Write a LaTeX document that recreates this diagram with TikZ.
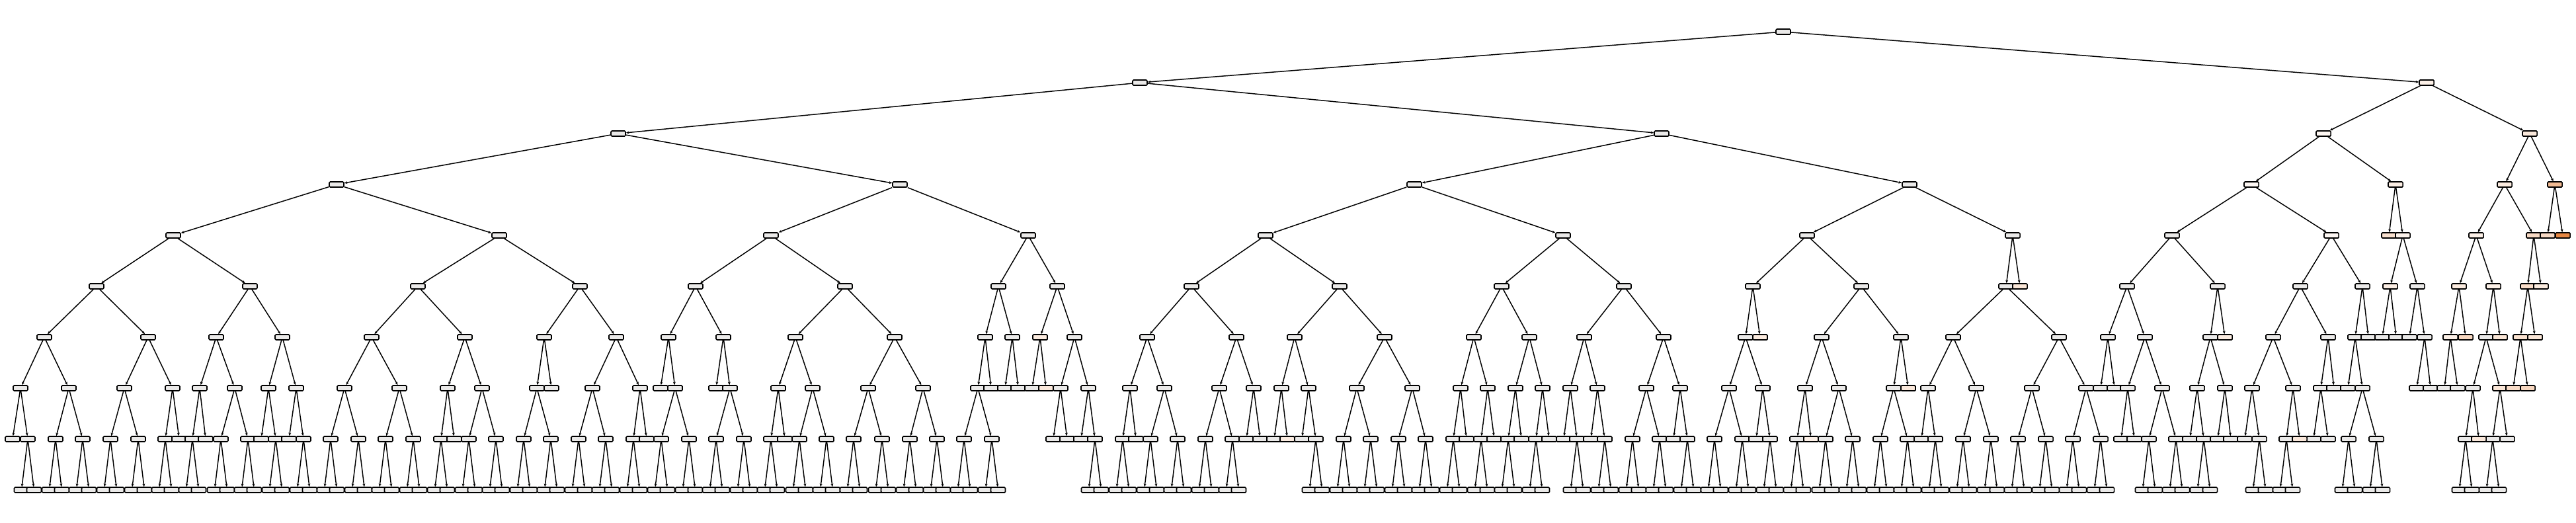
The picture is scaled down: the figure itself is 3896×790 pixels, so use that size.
\documentclass[tikz,border=0pt]{standalone}
\usepackage{tikz}
\usetikzlibrary{arrows.meta}
\definecolor{classzero}{HTML}{E58139}
\colorlet{boxfill}{classzero!8!black!9!white}
\tikzset{
  nodebox/.style={draw, line width=0.45pt, rounded corners=0.4pt, fill=boxfill,
    minimum width=0.22cm, minimum height=0.08cm, inner sep=0pt},
  branch/.style={line width=0.42pt, -{Stealth[length=1.3pt, width=1.1pt]}}
}
\begin{document}
\begin{tikzpicture}[x=0.01cm, y=0.01cm]
\useasboundingbox (0,0) rectangle (3896,-790);
\node[nodebox] (n0x2697) at (2697,-48) {};
\foreach \x in {1724,3670} {\node[nodebox] (n1x\x) at (\x,-125) {}; \draw[branch] (n0x2697) -- (n1x\x);}
\foreach \x/\p in {935/1724, 2513/1724, 3514/3670, 3826/3670}
  {\node[nodebox] (n2x\x) at (\x,-202) {}; \draw[branch] (n1x\p) -- (n2x\x);}
\foreach \x/\p in {509/935, 1361/935, 2139/2513, 2888/2513, 3405/3514, 3623/3514, 3788/3826, 3864/3826}
  {\node[nodebox] (n3x\x) at (\x,-279) {}; \draw[branch] (n2x\p) -- (n3x\x);}
\foreach \x/\p in {262/509, 755/509, 1166/1361, 1555/1361, 1914/2139, 2364/2139, 2733/2888, 3044/2888,
    3285/3405, 3526/3405, 3613/3623, 3634/3623, 3745/3788, 3832/3788, 3853/3864, 3876/3864}
  {\node[nodebox] (n4x\x) at (\x,-356) {}; \draw[branch] (n3x\p) -- (n4x\x);}
\foreach \x/\p in {146/262, 378/262, 632/755, 877/755, 1052/1166, 1278/1166, 1510/1555, 1599/1555,
    1802/1914, 2026/1914, 2271/2364, 2456/2364, 2651/2733, 2815/2733, 3034/3044, 3055/3044,
    3217/3285, 3354/3285, 3479/3526, 3573/3526, 3615/3634, 3656/3634, 3719/3745, 3771/3745,
    3823/3832, 3843/3832}
  {\node[nodebox] (n5x\x) at (\x,-433) {}; \draw[branch] (n4x\p) -- (n5x\x);}
\foreach \x/\p in {67/146, 224/146, 327/378, 427/378, 562/632, 703/632, 823/877, 932/877,
    1011/1052, 1094/1052, 1203/1278, 1353/1278, 1490/1510, 1531/1510, 1573/1599, 1625/1599,
    1735/1802, 1870/1802, 1958/2026, 2094/2026, 2229/2271, 2313/2271, 2396/2456, 2516/2456,
    2640/2651, 2662/2651, 2755/2815, 2875/2815, 2954/3034, 3114/3034, 3188/3217, 3244/3217,
    3343/3354, 3365/3354, 3438/3479, 3521/3479, 3562/3573, 3582/3573, 3603/3615, 3624/3615,
    3644/3656, 3667/3656, 3706/3719, 3729/3719, 3760/3771, 3781/3771, 3812/3823, 3834/3823}
  {\node[nodebox] (n6x\x) at (\x,-510) {}; \draw[branch] (n5x\p) -- (n6x\x);}
\foreach \x/\p in {31/67, 104/67, 188/224, 261/224, 302/327, 355/327, 406/427, 448/427,
    521/562, 604/562, 677/703, 729/703, 812/823, 834/823, 896/932, 968/932,
    999/1011, 1021/1011, 1083/1094, 1104/1094, 1177/1203, 1229/1203, 1313/1353, 1396/1353,
    1479/1490, 1499/1490, 1520/1531, 1540/1531, 1561/1573, 1582/1573, 1604/1625, 1646/1625,
    1709/1735, 1761/1735, 1844/1870, 1896/1870, 1938/1958, 1979/1958, 2052/2094, 2136/2094,
    2209/2229, 2250/2229, 2292/2313, 2333/2313, 2375/2396, 2416/2396, 2490/2516, 2541/2516,
    2615/2640, 2666/2640, 2730/2755, 2781/2755, 2864/2875, 2886/2875, 2916/2954, 2989/2954,
    3073/3114, 3155/3114, 3177/3188, 3198/3188, 3218/3244, 3270/3244, 3323/3343, 3365/3343,
    3406/3438, 3468/3438, 3510/3521, 3530/3521, 3551/3562, 3573/3562, 3655/3667, 3676/3667,
    3697/3706, 3717/3706, 3740/3760, 3781/3760, 3801/3812, 3823/3812}
  {\node[nodebox] (n7x\x) at (\x,-587) {}; \draw[branch] (n6x\p) -- (n7x\x);}
\foreach \x/\p in {19/31, 42/31, 84/104, 125/104, 167/188, 209/188, 250/261, 271/261,
    291/302, 311/302, 334/355, 375/355, 395/406, 417/406, 437/448, 459/448,
    500/521, 542/521, 583/604, 625/604, 667/677, 687/677, 709/729, 750/729,
    792/812, 833/812, 875/896, 916/896, 958/968, 978/968, 1000/1021, 1042/1021,
    1083/1104, 1125/1104, 1166/1177, 1187/1177, 1209/1229, 1250/1229, 1291/1313, 1334/1313,
    1376/1396, 1417/1396, 1458/1479, 1500/1479, 1593/1604, 1614/1604, 1635/1646, 1656/1646,
    1698/1709, 1718/1709, 1740/1761, 1781/1761, 1823/1844, 1864/1844, 1885/1896, 1906/1896,
    1927/1938, 1947/1938, 1969/1979, 1990/1979, 2032/2052, 2073/2052, 2115/2136, 2156/2136,
    2198/2209, 2218/2209, 2240/2250, 2260/2250, 2281/2292, 2301/2292, 2323/2333, 2343/2333,
    2365/2375, 2385/2375, 2406/2416, 2427/2416, 2469/2490, 2510/2490, 2531/2541, 2552/2541,
    2593/2615, 2635/2615, 2656/2666, 2677/2666, 2718/2730, 2739/2730, 2761/2781, 2802/2781,
    2844/2864, 2885/2864, 2906/2916, 2927/2916, 2969/2989, 3011/2989, 3052/3073, 3094/3073,
    3135/3155, 3177/3155, 3208/3218, 3228/3218, 3250/3270, 3291/3270, 3312/3323, 3333/3323,
    3354/3365, 3374/3365, 3395/3406, 3417/3406, 3458/3468, 3478/3468, 3499/3510, 3521/3510,
    3552/3573, 3594/3573, 3729/3740, 3749/3740, 3770/3781, 3792/3781}
  {\node[nodebox] (n8x\x) at (\x,-664) {}; \draw[branch] (n7x\p) -- (n8x\x);}
\foreach \p in {42, 84, 125, 167, 209, 250, 291, 334, 375, 417, 459, 500, 542, 583, 625,
    667, 709, 750, 792, 833, 875, 916, 958, 1000, 1042, 1083, 1125, 1166, 1209, 1250,
    1291, 1334, 1376, 1417, 1458, 1500, 1656, 1698, 1740, 1781, 1823, 1864, 1990, 2032,
    2073, 2115, 2156, 2198, 2240, 2281, 2323, 2385, 2427, 2469, 2510, 2552, 2593, 2635,
    2677, 2718, 2761, 2802, 2844, 2885, 2927, 2969, 3011, 3052, 3094, 3135, 3177, 3250,
    3291, 3333, 3417, 3458, 3552, 3594, 3729, 3770}
  {\node[nodebox] (n9x\p l) at (\p-9.5,-741) {};
   \node[nodebox] (n9x\p r) at (\p+9.5,-741) {};
   \draw[branch] (n8x\p) -- (n9x\p l);
   \draw[branch] (n8x\p) -- (n9x\p r);}
\foreach \n/\t in {n1x3670/12, n2x3514/7, n2x3826/18, n3x3405/6, n3x3623/14, n3x3788/16,
    n3x3864/55, n4x3526/6, n4x3613/25, n4x3634/10, n4x3745/12, n4x3832/30, n4x3853/30,
    n4x3876/95, n5x3615/14, n5x3719/16, n5x3771/12, n5x3823/28, n5x3843/16, n5x3055/20,
    n6x2662/16, n6x1573/16, n6x3365/15, n6x3729/32, n6x3781/20, n6x3812/24, n6x3834/20,
    n6x3706/12, n7x1582/18, n7x2886/18, n7x3781/20, n7x3801/28, n7x3823/32, n8x1947/15,
    n8x3478/18, n8x3749/18, n8x2739/12}
  {\node[nodebox, fill=classzero!\t!white] at (\n) {};}
\end{tikzpicture}
\end{document}
